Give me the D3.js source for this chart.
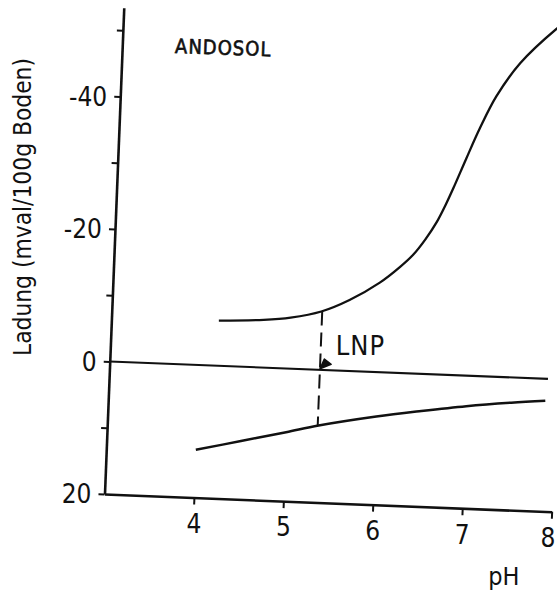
<!DOCTYPE html>
<html>
<head>
<meta charset="utf-8">
<script src="https://cdn.jsdelivr.net/npm/d3@7"></script>
<style>
  body { margin: 0; background: #fff; }
  text { font-family: "DejaVu Sans Condensed", "Liberation Sans Narrow", sans-serif; fill: #111; }
</style>
</head>
<body>
<svg id="chart" width="557" height="593"></svg>
<script>
const phTicks = [4, 5, 6, 7, 8];
const chargeTicks = [-40, -20, 0, 20];
const chargeMinorTicks = [-50, -30, -10, 10];

// negative charge (upper curve)
const negPH = [4.2, 4.7, 5.0, 5.34, 5.65, 5.98, 6.2, 6.34, 6.47, 6.59, 6.68, 6.76, 6.89, 7.03, 7.2, 7.45, 7.84, 7.95];
const negCharge = [-6.8, -7.2, -7.7, -8.8, -10.7, -13.5, -16.0, -17.9, -20.3, -23.0, -25.6, -28.2, -32.7, -37.4, -42.3, -47.4, -52.8, -54.0];

// positive charge (lower curve)
const posPH = [4.0, 4.5, 5.0, 5.36, 6.0, 6.5, 7.0, 7.5, 7.88];
const posCharge = [12.8, 11.2, 9.6, 8.4, 6.7, 5.6, 4.6, 3.8, 3.3];

// zero line
const zeroPH = [3, 7.9];
const zeroCharge = [0, 0];

// LNP marker
const lnpPH = 5.35;
const lnpTop = -8.8;
const lnpBottom = 8.4;

const svg = d3.select("#chart");
const width = +svg.attr("width");

const x = d3.scaleLinear().domain([3, 8]).range([104.5, 552]);
const y = d3.scaleLinear().domain([20, -53.4]).range([494, 7.4]);

// the scanned figure is tilted a little
const angle = 2.27;
const rad = angle * Math.PI / 180;
const ox = x(3), oy = y(20);
const project = (pv, cv) => {
  const dx = x(pv) - ox, dy = y(cv) - oy;
  return [ox + dx * Math.cos(rad) - dy * Math.sin(rad),
          oy + dx * Math.sin(rad) + dy * Math.cos(rad)];
};

const g = svg.append("g").attr("transform", `rotate(${angle},${ox},${oy})`);

const xAxis = g.append("g")
  .attr("transform", `translate(0,${y(20)})`)
  .call(d3.axisBottom(x).tickValues(phTicks).tickSize(7).tickSizeOuter(0).tickFormat(""));
const yAxis = g.append("g")
  .attr("transform", `translate(${x(3)},0)`)
  .call(d3.axisLeft(y).tickValues(chargeTicks.concat(chargeMinorTicks)).tickSize(6).tickSizeOuter(0).tickFormat(""));
[xAxis, yAxis].forEach(a => {
  a.select(".domain").attr("stroke", "#111").attr("stroke-width", 2.6);
  a.selectAll(".tick line").attr("stroke", "#111").attr("stroke-width", 2);
});

const line = d3.line().x(d => x(d[0])).y(d => y(d[1])).curve(d3.curveCatmullRom.alpha(0.5));

const series = [
  [negPH, negCharge, 2.3],
  [posPH, posCharge, 2.5],
  [zeroPH, zeroCharge, 2.1]
];
series.forEach(([px, cy, w]) => {
  g.append("path")
    .datum(px.map((v, i) => [v, cy[i]]))
    .attr("d", line)
    .attr("fill", "none")
    .attr("stroke", "#111")
    .attr("stroke-width", w);
});

g.append("line")
  .attr("x1", x(lnpPH)).attr("x2", x(lnpPH))
  .attr("y1", y(lnpTop)).attr("y2", y(lnpBottom))
  .attr("stroke", "#111")
  .attr("stroke-width", 2)
  .attr("stroke-dasharray", "14,7");

// arrowhead pointing at the LNP
const tx = x(lnpPH), ty = y(0);
g.append("path")
  .attr("d", `M${tx},${ty - 1} L${tx + 4},${ty - 11} L${tx + 11},${ty - 6} Z`)
  .attr("fill", "#111")
  .attr("stroke", "#111")
  .attr("stroke-width", 1.5)
  .attr("stroke-linejoin", "round");

// tick labels (kept upright)
phTicks.forEach(t => {
  const [sx, sy] = project(t, 20);
  svg.append("text")
    .attr("x", Math.min(sx, width - 9)).attr("y", sy + 26)
    .attr("dy", "0.36em")
    .attr("text-anchor", "middle")
    .attr("font-size", 26)
    .text(t);
});
chargeTicks.forEach(t => {
  const [sx, sy] = project(3, t);
  svg.append("text")
    .attr("x", sx - 13).attr("y", sy)
    .attr("dy", "0.36em")
    .attr("text-anchor", "end")
    .attr("font-size", 26)
    .text(t < 0 ? "-" + Math.abs(t) : t);
});

// axis titles and labels
svg.append("text")
  .attr("transform", "translate(31,207) rotate(-90)")
  .attr("text-anchor", "middle")
  .attr("font-size", 24)
  .attr("textLength", 298)
  .attr("lengthAdjust", "spacingAndGlyphs")
  .text("Ladung (mval/100g Boden)");

const [phx, phy] = project(7.29, 20);
svg.append("text")
  .attr("x", phx).attr("y", phy + 76)
  .attr("font-size", 25)
  .text("pH");

const [ax, ay] = project(3.59, -46.9);
svg.append("text")
  .attr("x", ax).attr("y", ay)
  .attr("font-size", 20)
  .attr("letter-spacing", 1)
  .attr("stroke", "#111")
  .attr("stroke-width", 0.6)
  .attr("transform", `rotate(2,${ax},${ay})`)
  .text("ANDOSOL");

const [lx, ly] = project(5.52, -2.35);
svg.append("text")
  .attr("x", lx).attr("y", ly)
  .attr("font-size", 27)
  .attr("letter-spacing", 1)
  .text("LNP");
</script>
</body>
</html>
